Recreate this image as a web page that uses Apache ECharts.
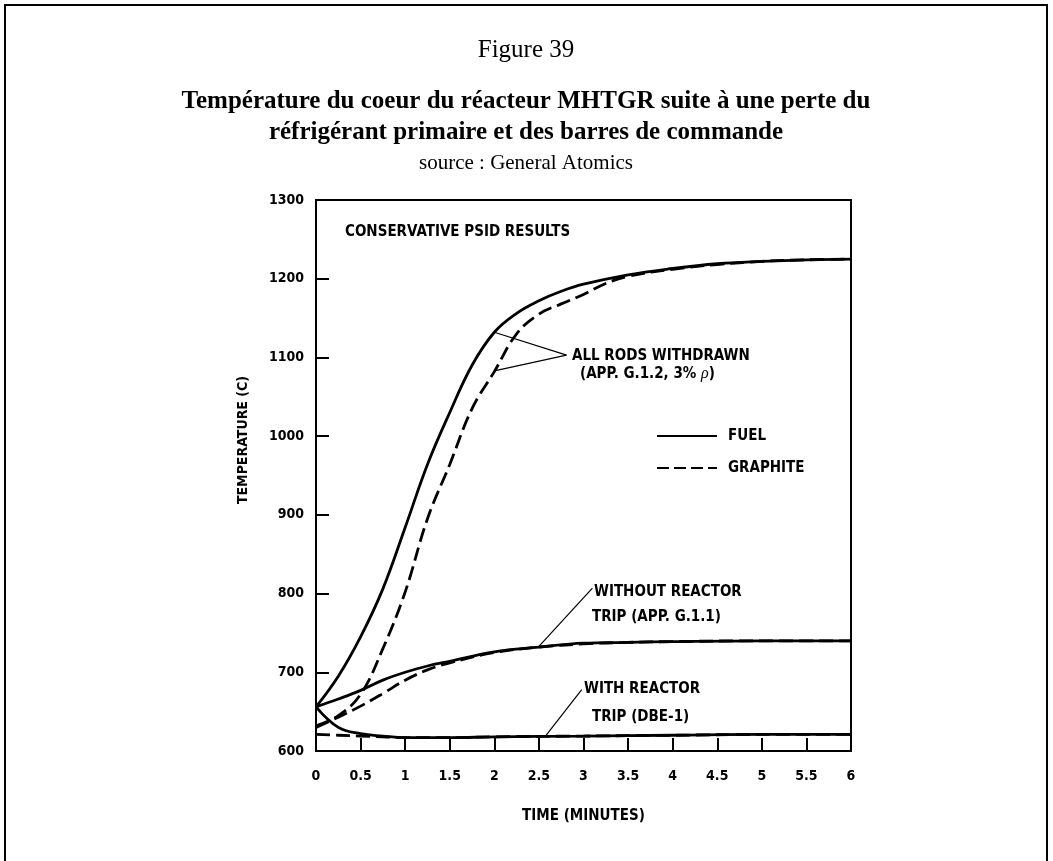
<!DOCTYPE html>
<html>
<head>
<meta charset="utf-8">
<script src="https://cdn.jsdelivr.net/npm/echarts@6/dist/echarts.min.js"></script>
<style>
  html, body { margin: 0; padding: 0; background: #fff; }
  #chart { width: 1053px; height: 861px; }
</style>
</head>
<body>
<div id="chart"></div>
<script>
// Axis tick labels
const timeTicks = ['0', '0.5', '1', '1.5', '2', '2.5', '3', '3.5', '4', '4.5', '5', '5.5', '6'];
const tempTicks = [600, 700, 800, 900, 1000, 1100, 1200, 1300];

// All rods withdrawn (APP. G.1.2, 3% rho)
const rodsFuelTime  = [0, 0.25, 0.5, 0.75, 1.0, 1.25, 1.5, 1.75, 2.0, 2.25, 2.5, 2.75, 3.0, 3.5, 4.0, 4.5, 5.0, 5.5, 6.0];
const rodsFuelTemp  = [656, 695, 745, 806, 884, 964, 1030, 1090, 1132, 1156, 1172, 1184, 1193, 1205, 1213, 1219, 1222, 1224, 1225];
const rodsGraphTime = [0, 0.25, 0.5, 0.75, 1.0, 1.25, 1.5, 1.75, 2.0, 2.25, 2.5, 2.75, 3.0, 3.25, 3.5, 4.0, 4.5, 5.0, 5.5, 6.0];
const rodsGraphTemp = [632, 645, 672, 730, 802, 895, 964, 1035, 1082, 1130, 1155, 1168, 1180, 1194, 1203, 1212, 1218, 1222, 1224, 1225];

// Without reactor trip (APP. G.1.1)
const noTripFuelTime  = [0, 0.25, 0.5, 0.75, 1.0, 1.25, 1.5, 2.0, 2.5, 3.0, 3.5, 4.0, 5.0, 6.0];
const noTripFuelTemp  = [656, 666, 677, 690, 700, 708, 714, 726, 732, 737, 738, 739, 740, 740];
const noTripGraphTime = [0, 0.25, 0.5, 0.75, 1.0, 1.25, 1.5, 2.0, 2.5, 3.0, 3.5, 4.0, 5.0, 6.0];
const noTripGraphTemp = [630, 643, 657, 673, 690, 703, 712, 725, 732, 736, 738, 739, 740, 740];

// With reactor trip (DBE-1)
const tripFuelTime  = [0, 0.25, 0.5, 0.75, 1.0, 1.5, 2.0, 3.0, 4.0, 5.0, 6.0];
const tripFuelTemp  = [656, 630, 622, 619, 617, 617, 618, 619, 620, 621, 621];
const tripGraphTime = [0, 0.25, 0.5, 0.75, 1.0, 1.5, 2.0, 3.0, 4.0, 5.0, 6.0];
const tripGraphTemp = [621, 620, 619, 618, 617, 617, 618, 619, 620, 621, 621];

// Leader lines for the curve callouts: [time, temperature] pairs
const rodsLeaderFuel  = [[2.81, 1103], [2.0, 1132]];
const rodsLeaderGraph = [[2.81, 1103], [2.0, 1083]];
const noTripLeader    = [[3.1, 807], [2.5, 733]];
const tripLeader      = [[2.98, 678], [2.58, 620]];

const pairs = (xs, ys) => xs.map((x, i) => [x, ys[i]]);

const narrow = '"Liberation Sans Narrow", "DejaVu Sans Condensed", "Roboto", sans-serif';
const serif = '"Liberation Serif", "DejaVu Serif", serif';
const ink = '#000';

const solid = { color: ink, width: 2.8, type: 'solid' };
const dashed = { color: ink, width: 2.8, type: [14, 6] };

function curve(name, xs, ys, style) {
  return {
    name: name,
    type: 'line',
    data: pairs(xs, ys),
    smooth: 0.4,
    showSymbol: false,
    symbol: 'none',
    silent: true,
    lineStyle: style,
    itemStyle: { color: ink },
    z: 3
  };
}

function leader(points) {
  return {
    type: 'line',
    data: points,
    showSymbol: false,
    symbol: 'none',
    silent: true,
    lineStyle: { color: ink, width: 1.2 },
    z: 2
  };
}

function label(text, x, y) {
  return {
    type: 'text', x: x, y: y, silent: true,
    style: { text: text, fontFamily: narrow, fontWeight: 'bold', fontSize: 15, fill: ink, textVerticalAlign: 'middle' }
  };
}

const chart = echarts.init(document.getElementById('chart'));

chart.setOption({
  animation: false,
  backgroundColor: '#fff',
  grid: {
    left: 316, right: 202, top: 200, bottom: 110,
    show: true, borderColor: ink, borderWidth: 2, backgroundColor: 'transparent'
  },
  xAxis: {
    type: 'value', min: 0, max: 6, interval: 0.5,
    name: 'TIME (MINUTES)', nameLocation: 'middle', nameGap: 58,
    nameTextStyle: { fontFamily: narrow, fontWeight: 'bold', fontSize: 15, color: ink },
    axisLine: { show: true, onZero: false, lineStyle: { color: ink, width: 2 } },
    axisTick: { show: true, inside: true, length: 13, lineStyle: { color: ink, width: 2 } },
    axisLabel: {
      margin: 18, fontFamily: narrow, fontWeight: 'bold', fontSize: 14, color: ink,
      formatter: (v) => timeTicks[Math.round(v * 2)]
    },
    splitLine: { show: false }
  },
  yAxis: {
    type: 'value', min: 600, max: 1300, interval: 100,
    axisLine: { show: true, onZero: false, lineStyle: { color: ink, width: 2 } },
    axisTick: { show: true, inside: true, length: 13, lineStyle: { color: ink, width: 2 } },
    axisLabel: {
      margin: 12, fontFamily: narrow, fontWeight: 'bold', fontSize: 14, color: ink,
      formatter: (v) => String(tempTicks[Math.round((v - 600) / 100)])
    },
    splitLine: { show: false }
  },
  series: [
    curve('FUEL', rodsFuelTime, rodsFuelTemp, solid),
    curve('GRAPHITE', rodsGraphTime, rodsGraphTemp, dashed),
    curve('FUEL', noTripFuelTime, noTripFuelTemp, solid),
    curve('GRAPHITE', noTripGraphTime, noTripGraphTemp, dashed),
    curve('FUEL', tripFuelTime, tripFuelTemp, solid),
    curve('GRAPHITE', tripGraphTime, tripGraphTemp, dashed),
    leader(rodsLeaderFuel),
    leader(rodsLeaderGraph),
    leader(noTripLeader),
    leader(tripLeader)
  ],
  graphic: [
    // page frame
    {
      type: 'rect', silent: true, z: 0,
      shape: { x: 5, y: 5, width: 1042, height: 880 },
      style: { fill: 'none', stroke: ink, lineWidth: 2 }
    },
    // headings
    {
      type: 'text', x: 526, y: 50, silent: true,
      style: { text: 'Figure 39', fontFamily: serif, fontSize: 25, fill: ink, textAlign: 'center', textVerticalAlign: 'middle' }
    },
    {
      type: 'text', x: 526, y: 102, silent: true,
      style: { text: 'Température du coeur du réacteur MHTGR suite à une perte du', fontFamily: serif, fontWeight: 'bold', fontSize: 25, fill: ink, textAlign: 'center', textVerticalAlign: 'middle' }
    },
    {
      type: 'text', x: 526, y: 133, silent: true,
      style: { text: 'réfrigérant primaire et des barres de commande', fontFamily: serif, fontWeight: 'bold', fontSize: 25, fill: ink, textAlign: 'center', textVerticalAlign: 'middle' }
    },
    {
      type: 'text', x: 526, y: 163, silent: true,
      style: { text: 'source : General Atomics', fontFamily: serif, fontSize: 21, fill: ink, textAlign: 'center', textVerticalAlign: 'middle' }
    },
    // vertical axis title
    {
      type: 'text', x: 243, y: 440, rotation: Math.PI / 2, silent: true,
      style: { text: 'TEMPERATURE (C)', fontFamily: narrow, fontWeight: 'bold', fontSize: 14, fill: ink, textAlign: 'center', textVerticalAlign: 'middle' }
    },
    // key
    { type: 'line', silent: true, shape: { x1: 657, y1: 436, x2: 717, y2: 436 }, style: { stroke: ink, lineWidth: 2.2 } },
    label('FUEL', 728, 436),
    { type: 'line', silent: true, shape: { x1: 657, y1: 468, x2: 717, y2: 468 }, style: { stroke: ink, lineWidth: 2.2, lineDash: [12, 5] } },
    label('GRAPHITE', 728, 468),
    // callouts
    label('CONSERVATIVE PSID RESULTS', 345, 232),
    label('ALL RODS WITHDRAWN', 572, 356),
    {
      type: 'text', x: 580, y: 374, silent: true,
      style: {
        text: '(APP. G.1.2, 3% {r|ρ})',
        fontFamily: narrow, fontWeight: 'bold', fontSize: 15, fill: ink, textVerticalAlign: 'middle',
        rich: { r: { fontFamily: serif, fontStyle: 'italic', fontSize: 16, fontWeight: 'normal' } }
      }
    },
    label('WITHOUT REACTOR', 594, 592),
    label('TRIP (APP. G.1.1)', 592, 617),
    label('WITH REACTOR', 584, 689),
    label('TRIP (DBE-1)', 592, 717)
  ]
});
</script>
</body>
</html>
